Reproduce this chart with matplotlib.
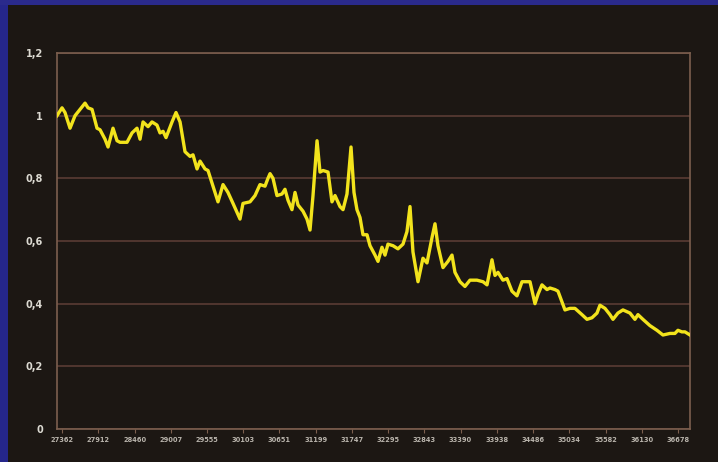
import matplotlib
matplotlib.use("Agg")
import matplotlib.pyplot as plt
from matplotlib.patches import Rectangle

# Serial dates (x) and series values
dates = [27286, 27362, 27407, 27483, 27559, 27634, 27710, 27755, 27816, 27891,
         27937, 28012, 28058, 28133, 28194, 28239, 28345, 28421, 28496, 28542,
         28587, 28663, 28723, 28798, 28844, 28890, 28935, 29026, 29086, 29147,
         29222, 29298, 29343, 29404, 29449, 29525, 29570, 29646, 29721, 29797,
         29872, 29948, 30054, 30099, 30205, 30281, 30356, 30432, 30477, 30508,
         30553, 30613, 30689, 30734, 30780, 30840, 30886, 30931, 31007, 31067,
         31113, 31158, 31219, 31264, 31310, 31385, 31445, 31491, 31566, 31612,
         31672, 31733, 31778, 31823, 31869, 31914, 31975, 32020, 32096, 32141,
         32201, 32247, 32292, 32368, 32443, 32519, 32579, 32625, 32670, 32746,
         32821, 32882, 32957, 33003, 33048, 33124, 33199, 33260, 33305, 33381,
         33456, 33532, 33638, 33729, 33790, 33865, 33910, 33956, 34031, 34092,
         34167, 34243, 34319, 34364, 34440, 34515, 34561, 34621, 34697, 34742,
         34818, 34863, 34969, 35045, 35120, 35226, 35302, 35377, 35453, 35498,
         35574, 35649, 35695, 35770, 35846, 35952, 36027, 36073, 36148, 36254,
         36360, 36451, 36557, 36632, 36678, 36738, 36784, 36860]
values = [1.00, 1.025, 1.01, 0.96, 1.00, 1.02, 1.04, 1.025, 1.02, 0.96,
          0.955, 0.925, 0.90, 0.96, 0.92, 0.915, 0.915, 0.945, 0.96, 0.925,
          0.98, 0.965, 0.98, 0.97, 0.945, 0.95, 0.93, 0.98, 1.01, 0.98,
          0.885, 0.87, 0.875, 0.83, 0.855, 0.83, 0.825, 0.775, 0.725, 0.78,
          0.755, 0.72, 0.67, 0.72, 0.725, 0.745, 0.78, 0.775, 0.80, 0.815,
          0.80, 0.745, 0.75, 0.765, 0.73, 0.70, 0.755, 0.715, 0.695, 0.67,
          0.635, 0.745, 0.92, 0.82, 0.825, 0.82, 0.725, 0.745, 0.71, 0.70,
          0.75, 0.90, 0.755, 0.70, 0.675, 0.62, 0.62, 0.585, 0.555, 0.535,
          0.58, 0.555, 0.59, 0.585, 0.575, 0.59, 0.63, 0.71, 0.565, 0.47,
          0.545, 0.53, 0.61, 0.655, 0.585, 0.515, 0.535, 0.555, 0.50, 0.47,
          0.455, 0.475, 0.475, 0.47, 0.46, 0.54, 0.49, 0.50, 0.475, 0.48,
          0.44, 0.425, 0.47, 0.47, 0.47, 0.40, 0.43, 0.46, 0.445, 0.45,
          0.445, 0.44, 0.38, 0.385, 0.385, 0.365, 0.35, 0.355, 0.37, 0.395,
          0.385, 0.365, 0.35, 0.37, 0.38, 0.37, 0.35, 0.365, 0.35, 0.33,
          0.315, 0.30, 0.305, 0.305, 0.315, 0.31, 0.31, 0.30]

x_ticks = [27362, 27912, 28460, 29007, 29555, 30103, 30651, 31199, 31747,
           32295, 32843, 33390, 33938, 34486, 35034, 35582, 36130, 36678]
x_labels = [str(v) for v in x_ticks]
y_ticks = [0, 0.2, 0.4, 0.6, 0.8, 1.0, 1.2]
y_labels = ["0", "0,2", "0,4", "0,6", "0,8", "1", "1,2"]

BG = "#1c1713"
GRID = "#5a3c34"
FRAME = "#7c5f4e"
TXT = "#dcdad2"
TXT_X = "#b9b4ac"

fig = plt.figure(figsize=(7.18, 4.62), dpi=100, facecolor=BG)
# blue border strips
fig.patches.append(Rectangle((0, 0), 8 / 718, 1, transform=fig.transFigure,
                             facecolor="#25268a", edgecolor="none", zorder=0))
fig.patches.append(Rectangle((0, 1 - 5 / 462), 1, 5 / 462, transform=fig.transFigure,
                             facecolor="#2a2a8c", edgecolor="none", zorder=0))

ax = fig.add_axes([57 / 718, 33 / 462, 633 / 718, 376 / 462])
ax.set_facecolor(BG)
ax.plot(dates, values, color="#f2e31c", lw=2.4, solid_joinstyle="round", zorder=3)

ax.set_xlim(27286, 36860)
ax.set_ylim(0, 1.2)
ax.set_yticks(y_ticks)
ax.set_yticklabels(y_labels)
ax.set_xticks(x_ticks)
ax.set_xticklabels(x_labels)
ax.yaxis.grid(True, color=GRID, lw=1.2)
ax.set_axisbelow(True)
for s in ax.spines.values():
    s.set_color(FRAME)
    s.set_linewidth(1.2)
ax.tick_params(axis="y", colors=TXT, labelsize=7, length=0, pad=10)
ax.tick_params(axis="x", colors=TXT_X, labelsize=4.8, length=3, pad=3, color=FRAME)
for t in ax.get_yticklabels() + ax.get_xticklabels():
    t.set_fontweight("bold")

fig.savefig("out.png", dpi=100, facecolor=BG)
